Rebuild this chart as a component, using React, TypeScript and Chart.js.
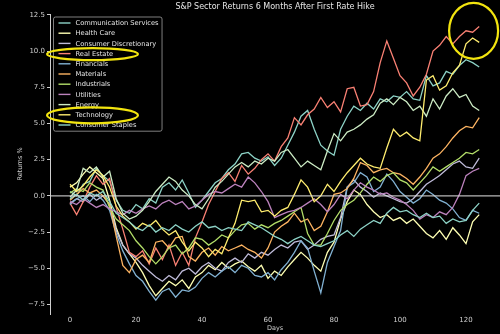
import { useEffect, useRef } from "react";
import { Chart, registerables } from "chart.js";

Chart.register(...registerables);

const FONT = '"DejaVu Sans", "Liberation Sans", sans-serif';

const TITLE = "S&P Sector Returns 6 Months After First Rate Hike";
const X_LABEL = "Days";
const Y_LABEL = "Returns %";

const DAYS = [
  0, 2, 4, 6, 8, 10, 12, 14, 16, 18, 20, 22, 24, 26, 28, 30, 32, 34, 36, 38, 40,
  42, 44, 46, 48, 50, 52, 54, 56, 58, 60, 62, 64, 66, 68, 70, 72, 74, 76, 78, 80,
  82, 84, 86, 88, 90, 92, 94, 96, 98, 100, 102, 104, 106, 108, 110, 112, 114, 116,
  118, 120, 122, 124,
];

const SECTORS = [
  "Communication Services",
  "Health Care",
  "Consumer Discretionary",
  "Real Estate",
  "Financials",
  "Materials",
  "Industrials",
  "Utilities",
  "Energy",
  "Technology",
  "Consumer Staples",
];

const COLORS = [
  "#8dd3c7", "#feffb3", "#bfbbd9", "#fa8174", "#81b1d2", "#fdb462",
  "#b3de69", "#bc82bd", "#ccebc4", "#ffed6f", "#8dd3c7",
];

const HIGHLIGHTED = ["Real Estate", "Technology"];

const COMM_SERVICES = [
  0.3, 0.0, 0.8, 1.0, 1.9, 1.4, 1.0, -0.3, -1.0, -1.2, -0.6, -0.9, -0.2, -0.5, 0.6, 0.9,
  0.4, 1.1, 0.2, -0.8, -0.3, 0.3, 0.9, 1.2, 1.8, 2.2, 2.9, 3.0, 2.6, 2.4, 2.7, 2.1,
  2.6, 3.5, 4.4, 5.5, 5.9, 4.6, 3.5, 3.1, 2.8, 4.6, 5.5, 6.2, 5.9, 6.4, 6.0, 6.7,
  6.5, 6.9, 6.8, 7.2, 6.7, 6.6, 8.3, 7.6, 7.8, 8.6, 8.4, 9.0, 9.4, 9.2, 8.9,
];
const HEALTH_CARE = [
  0.6, 0.9, 1.5, 2.0, 1.6, 1.2, -0.3, -2.2, -3.4, -4.0, -4.6, -5.3, -6.2, -6.9, -6.4, -5.9,
  -6.2, -5.8, -6.4, -5.6, -5.3, -4.8, -5.1, -4.6, -5.0, -4.7, -4.5, -4.9, -5.2, -4.8, -5.7, -5.2,
  -5.5, -4.9, -4.4, -3.9, -4.3, -4.8, -5.2, -3.9, -3.2, -1.6, -0.4, 0.4, 0.1, -0.6, -1.1, -1.5,
  -1.3, -1.7, -1.5, -1.9, -1.6, -2.1, -2.6, -2.9, -2.4, -3.0, -2.2, -2.7, -3.3, -1.8, -1.3,
];
const CONS_DISCRETIONARY = [
  -0.5, -0.2, -0.4, 0.1, -0.3, 0.0, -0.6, -2.4, -3.4, -4.0, -4.3, -4.8, -5.2, -5.6, -5.9, -5.5,
  -5.8, -5.2, -5.0, -5.4, -4.9, -4.6, -5.0, -5.2, -4.6, -4.3, -4.6, -4.0, -4.3, -3.9, -4.1, -3.7,
  -3.4, -3.6, -3.2, -3.1, -3.7, -3.4, -3.0, -2.8, -2.7, -1.5, 0.6, 1.1, 0.6, 0.3, -0.1, 0.2,
  0.0, -0.2, -0.4, -0.5, -0.2, 0.3, 0.8, 1.1, 1.4, 1.8, 2.2, 2.4, 2.0, 1.9, 2.6,
];
const REAL_ESTATE = [
  -0.5, -1.3, -0.4, 0.6, 1.4, 0.8, 1.2, -0.8, -2.3, -3.9, -4.2, -3.8, -4.7, -3.6, -4.4, -3.4,
  -4.8, -3.9, -4.8, -2.9, -1.8, -0.6, 0.3, 1.2, 1.6, 1.0, 2.1, 1.5, 1.9, 2.5, 2.9, 2.4,
  3.4, 4.0, 5.4, 4.9, 5.6, 6.0, 6.8, 6.1, 6.5, 5.8, 7.4, 7.5, 6.2, 6.3, 7.2, 9.2,
  10.7, 9.5, 8.3, 7.8, 6.9, 7.5, 8.4, 10.0, 10.4, 11.0, 10.5, 11.0, 11.4, 11.3, 11.7,
];
const FINANCIALS = [
  -0.6, -0.2, 0.0, -0.4, 0.1, -0.3, -1.0, -2.6, -3.8, -4.7, -5.5, -5.9, -6.6, -7.2, -6.6, -6.4,
  -7.0, -6.5, -6.6, -6.3, -5.7, -5.3, -5.6, -5.2, -4.9, -5.3, -4.8, -5.0, -5.5, -5.6, -5.3, -5.8,
  -5.1, -4.6, -3.9, -3.1, -3.6, -5.2, -6.7, -4.6, -3.5, -2.4, 0.6, 0.9, 1.6, 1.3, 0.3, 0.6,
  1.5, 1.0, 0.3, -0.1, -0.5, -0.2, 0.4, 0.1, -0.3, -0.5, -0.9, -1.5, -1.7, -1.0, -1.2,
];
const MATERIALS = [
  -0.3, 0.1, 0.5, 0.2, 0.4, 0.0, -0.6, -2.8, -4.8, -5.3, -4.4, -4.1, -4.6, -3.2, -3.1, -3.6,
  -2.9, -2.8, -4.2, -4.5, -3.9, -3.6, -4.1, -3.5, -3.8, -3.6, -3.4, -3.7, -3.9, -4.3, -3.6, -2.5,
  -2.1, -1.8, -1.2, -1.8, -1.6, -2.4, -2.1, -1.1, 0.1, 0.2, 0.5, 1.2, 2.3, 2.1, 1.6, 1.8,
  1.9, 1.6, 1.5, 1.2, 0.8, 1.3, 1.9, 2.6, 2.9, 3.4, 4.0, 4.5, 4.8, 4.7, 5.4,
];
const INDUSTRIALS = [
  0.2, 0.5, 0.3, 0.9, 0.6, 0.4, -0.8, -1.6, -2.0, -2.4, -3.1, -3.6, -4.2, -4.7, -4.2, -3.6,
  -3.4, -4.0, -3.6, -2.9, -3.0, -3.4, -3.1, -2.7, -2.9, -2.4, -2.0, -1.9, -2.3, -2.0, -2.2, -1.9,
  -1.7, -1.4, -1.1, -0.8, -2.6, -3.4, -3.4, -2.6, -1.7, -1.0, -0.6, -0.3, 0.2, 0.8, 1.3, 1.0,
  1.4, 1.6, 1.1, 0.9, 0.4, 0.9, 1.4, 2.0, 1.7, 2.0, 2.3, 2.6, 3.0, 2.9, 3.2,
];
const UTILITIES = [
  -0.4, -0.6, -0.2, -0.5, -0.8, -0.6, -0.9, -1.1, -1.3, -1.0, -1.2, -0.9, -0.7, -0.9, -0.5, -0.3,
  -0.6, -0.4, -0.9, -0.7, -0.3, 0.1, 0.3, 0.2, 0.5, 0.8, 0.6, 1.3, 0.9, 0.3, -0.4, -1.5,
  -1.3, -1.1, -1.0, -0.8, -0.5, -0.2, -0.6, -1.1, -0.6, 0.1, -0.2, 0.4, 0.9, 0.6, 0.4, 0.1,
  0.2, -0.1, -0.3, -0.6, -1.0, -1.6, -1.3, -1.5, -1.1, -1.3, -0.8, 0.1, 1.4, 1.7, 1.9,
];
const ENERGY = [
  -0.1, 0.4, 1.9, 1.6, 2.0, 1.3, 1.7, -0.2, -1.2, -1.6, -1.4, -1.0, -0.4, 0.3, 0.8, 1.3,
  1.0, 0.4, 0.0, -0.6, -0.9, -0.2, 0.6, 1.0, 1.5, 2.0, 2.3, 2.0, 2.4, 2.2, 2.6, 2.4,
  3.0, 3.2, 2.6, 2.0, 2.4, 2.1, 1.8, 3.1, 4.3, 3.8, 4.4, 4.6, 4.9, 5.3, 5.6, 6.4,
  6.7, 6.3, 6.8, 6.5, 5.9, 6.2, 5.5, 6.7, 6.0, 6.9, 7.4, 6.8, 7.0, 6.2, 5.9,
];
const TECHNOLOGY = [
  0.8, 0.3, 0.7, 1.3, 1.8, 1.4, 0.6, -0.7, -1.4, -1.8, -2.3, -1.9, -2.1, -1.7, -2.3, -2.7,
  -2.4, -3.2, -3.8, -3.2, -3.6, -4.2, -3.7, -4.0, -2.9, -1.9, -0.3, -0.4, -0.3, -1.1, -1.0, -1.4,
  -1.0, -0.8, 0.1, 1.1, 0.6, -0.4, 0.0, 0.8, 0.3, 1.0, 1.6, 2.1, 2.6, 2.2, 2.0, 1.9,
  3.3, 4.6, 4.1, 4.4, 4.0, 3.8, 8.0, 8.3, 7.3, 7.6, 8.5, 9.0, 10.5, 10.9, 10.6,
];
const CONS_STAPLES = [
  -0.2, 0.1, -0.3, 0.2, 0.0, 0.3, -0.4, -1.2, -1.5, -1.8, -2.2, -2.4, -2.0, -2.5, -2.2, -2.4,
  -2.0, -2.3, -2.5, -2.1, -1.8, -2.2, -2.1, -2.4, -2.2, -2.3, -2.4, -1.8, -2.0, -2.2, -2.5, -2.8,
  -3.0, -3.3, -3.0, -2.8, -3.1, -3.4, -3.5, -3.3, -3.1, -2.7, -2.4, -2.8, -2.3, -2.0, -1.7, -1.9,
  -1.2, -0.8, -1.1, -1.0, -1.3, -1.5, -1.2, -1.5, -1.4, -1.9, -1.6, -1.8, -1.7, -1.0, -0.5,
];

const SERIES = [
  COMM_SERVICES, HEALTH_CARE, CONS_DISCRETIONARY, REAL_ESTATE, FINANCIALS, MATERIALS,
  INDUSTRIALS, UTILITIES, ENERGY, TECHNOLOGY, CONS_STAPLES,
];

const X_TICKS = [0, 20, 40, 60, 80, 100, 120];
const Y_TICKS = [-7.5, -5, -2.5, 0, 2.5, 5, 7.5, 10, 12.5];
const X_MIN = -6.06;
const X_MAX = 130.3;
const Y_MIN = -8.16;
const Y_MAX = 12.56;
const CIRCLE_AT = { x: 122.3, y: 11.4 };

const TEXT = "#e6e6e6";
const AXIS = "#cfcfcf";
const HIGHLIGHT = "#f2e40f";

const overlay = {
  id: "overlay",
  beforeDraw(chart: any) {
    const ctx = chart.ctx;
    ctx.save();
    ctx.fillStyle = "#000";
    ctx.fillRect(0, 0, chart.width, chart.height);
    ctx.restore();
  },
  afterDatasetsDraw(chart: any) {
    const { ctx, chartArea, scales } = chart;
    const y0 = scales.y.getPixelForValue(0);
    ctx.save();
    ctx.strokeStyle = "rgba(215,215,215,0.85)";
    ctx.lineWidth = 1.2;
    ctx.beginPath();
    ctx.moveTo(chartArea.left, y0);
    ctx.lineTo(chartArea.right, y0);
    ctx.stroke();
    ctx.restore();
  },
  afterDraw(chart: any) {
    const { ctx, chartArea, scales } = chart;
    ctx.save();
    // legend
    const fontSize = 6.7;
    ctx.font = `${fontSize}px ${FONT}`;
    const rowH = 10.2;
    const left = chartArea.left + 3.5;
    const top = chartArea.top + 3;
    const swatch = 12;
    const textX = left + 22;
    let maxW = 0;
    SECTORS.forEach((s) => {
      maxW = Math.max(maxW, ctx.measureText(s).width);
    });
    const boxW = textX - left + maxW + 3.5;
    const boxH = rowH * SECTORS.length + 2;
    ctx.fillStyle = "rgba(0,0,0,0.82)";
    ctx.strokeStyle = "rgba(170,170,170,0.75)";
    ctx.lineWidth = 1;
    ctx.beginPath();
    const r = 2;
    ctx.moveTo(left + r, top);
    ctx.lineTo(left + boxW - r, top);
    ctx.quadraticCurveTo(left + boxW, top, left + boxW, top + r);
    ctx.lineTo(left + boxW, top + boxH - r);
    ctx.quadraticCurveTo(left + boxW, top + boxH, left + boxW - r, top + boxH);
    ctx.lineTo(left + r, top + boxH);
    ctx.quadraticCurveTo(left, top + boxH, left, top + boxH - r);
    ctx.lineTo(left, top + r);
    ctx.quadraticCurveTo(left, top, left + r, top);
    ctx.closePath();
    ctx.fill();
    ctx.stroke();
    const rowY = (i: number) => top + 6 + i * rowH;
    ctx.textBaseline = "middle";
    ctx.textAlign = "left";
    SECTORS.forEach((s, i) => {
      const y = rowY(i);
      ctx.strokeStyle = COLORS[i];
      ctx.lineWidth = 1.4;
      ctx.beginPath();
      ctx.moveTo(left + 5, y);
      ctx.lineTo(left + 5 + swatch, y);
      ctx.stroke();
      ctx.fillStyle = TEXT;
      ctx.fillText(s, textX, y + 0.5);
    });
    // highlight ellipses
    ctx.strokeStyle = HIGHLIGHT;
    ctx.lineWidth = 2.2;
    HIGHLIGHTED.forEach((name) => {
      const i = SECTORS.indexOf(name);
      const w = ctx.measureText(name).width;
      const cx = left + 39;
      const rx = Math.max(45.5, (textX + w - cx) + 12);
      const ry = name === "Technology" ? 8 : 6;
      ctx.beginPath();
      ctx.ellipse(cx, rowY(i) + 0.5, rx, ry, 0, 0, Math.PI * 2);
      ctx.stroke();
    });
    const cx = scales.x.getPixelForValue(CIRCLE_AT.x);
    const cy = scales.y.getPixelForValue(CIRCLE_AT.y);
    ctx.beginPath();
    ctx.ellipse(cx, cy, 24.5, 28, 0, 0, Math.PI * 2);
    ctx.stroke();
    ctx.restore();
  },
};

export default function App() {
  const ref = useRef<HTMLCanvasElement | null>(null);

  useEffect(() => {
    document.body.style.background = "#000";
    const canvas = ref.current;
    if (!canvas) return;
    const chart = new Chart(canvas, {
      type: "line",
      data: {
        datasets: SERIES.map((vals, i) => ({
          label: SECTORS[i],
          data: vals.map((v, k) => ({ x: DAYS[k], y: v })),
          borderColor: COLORS[i],
          backgroundColor: COLORS[i],
          borderWidth: 1.3,
          pointRadius: 0,
          tension: 0,
          fill: false,
          order: SERIES.length - i,
        })),
      },
      options: {
        responsive: false,
        animation: false,
        devicePixelRatio: 1,
        layout: { padding: { left: 0, right: 0, top: 0, bottom: 0 } },
        plugins: {
          legend: { display: false },
          tooltip: { enabled: false },
          title: {
            display: true,
            text: TITLE,
            color: TEXT,
            fullSize: false,
            font: { family: FONT, size: 8, weight: "normal" },
            padding: { top: 2, bottom: 2.4 },
          },
        },
        scales: {
          x: {
            type: "linear",
            min: X_MIN,
            max: X_MAX,
            afterBuildTicks: (s: any) => {
              s.ticks = X_TICKS.map((value) => ({ value }));
            },
            afterFit: (s: any) => {
              s.height = 20;
            },
            grid: { display: false, drawTicks: false, tickLength: 0 },
            border: { display: false },
            ticks: {
              color: AXIS,
              font: { family: FONT, size: 7 },
              padding: 2,
              maxRotation: 0,
              callback: (v: any) => String(v),
            },
            title: {
              display: true,
              text: X_LABEL,
              color: AXIS,
              font: { family: FONT, size: 6.5 },
              padding: { top: 0, bottom: 2 },
            },
          },
          y: {
            type: "linear",
            min: Y_MIN,
            max: Y_MAX,
            afterBuildTicks: (s: any) => {
              s.ticks = Y_TICKS.map((value) => ({ value }));
            },
            afterFit: (s: any) => {
              s.width = 50;
            },
            grid: {
              drawOnChartArea: false,
              drawTicks: true,
              tickLength: 3,
              color: AXIS,
            },
            border: { display: true, color: AXIS, width: 1 },
            ticks: {
              color: AXIS,
              font: { family: FONT, size: 7 },
              padding: 2,
              callback: (v: any) => Number(v).toFixed(1).replace("-", "\u2212"),
            },
            title: {
              display: true,
              text: Y_LABEL,
              color: AXIS,
              font: { family: FONT, size: 6.5 },
              padding: { top: 16, bottom: 0 },
            },
          },
        },
      },
      plugins: [overlay],
    } as any);
    return () => chart.destroy();
  }, []);

  return (
    <div style={{ position: "absolute", left: 0, top: 0, width: 500, height: 334, background: "#000" }}>
      <canvas ref={ref} width={500} height={334} style={{ display: "block", width: 500, height: 334 }} />
    </div>
  );
}
